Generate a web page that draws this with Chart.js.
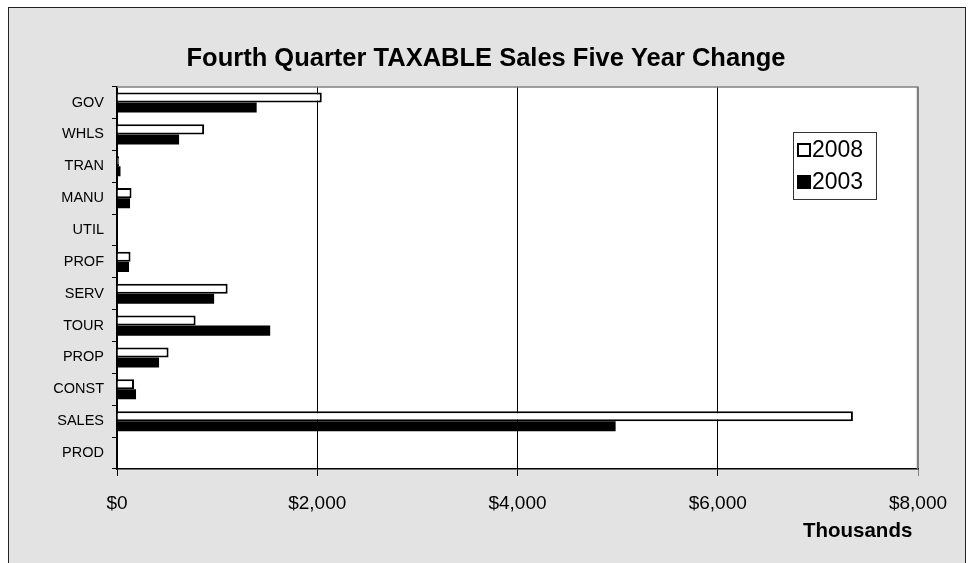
<!DOCTYPE html>
<html>
<head>
<meta charset="utf-8">
<script src="https://cdn.jsdelivr.net/npm/chart.js@4.4.0/dist/chart.umd.min.js"></script>
<style>
    body { margin: 0; background: #fff; }
    #frame {
        position: absolute; left: 8px; top: 7px; width: 956px; height: 600px;
        background: #e3e3e3; border: 1px solid #222;
    }
    #wrap { position: absolute; left: 0; top: 0; width: 972px; height: 563px; }
</style>
</head>
<body>
<div id="frame"></div>
<div id="wrap"><canvas id="chart"></canvas></div>
<script>
const categories = ['GOV', 'WHLS', 'TRAN', 'MANU', 'UTIL', 'PROF', 'SERV', 'TOUR', 'PROP', 'CONST', 'SALES', 'PROD'];
const sales2008 = [2045, 870, 20, 145, 0, 135, 1105, 785, 515, 170, 7350, 0];
const sales2003 = [1395, 620, 35, 130, 0, 120, 970, 1530, 420, 190, 4980, 0];
const xTicks = [0, 2000, 4000, 6000, 8000];

const FONT = "'Liberation Sans', Arial, sans-serif";

function money(v) {
    return '$' + String(v).replace(/\B(?=(\d{3})+(?!\d))/g, ',');
}

// white plot area with grey top/right border
const plotBox = {
    id: 'plotBox',
    beforeDraw(chart) {
        const a = chart.chartArea;
        const ctx = chart.ctx;
        ctx.save();
        ctx.fillStyle = '#fff';
        ctx.fillRect(a.left, a.top, a.right - a.left, a.bottom - a.top);
        ctx.restore();
    },
    afterDraw(chart) {
        const a = chart.chartArea;
        const ctx = chart.ctx;
        ctx.save();
        ctx.strokeStyle = '#808080';
        ctx.lineWidth = 1.5;
        ctx.beginPath();
        ctx.moveTo(a.left, a.top + 0.5);
        ctx.lineTo(a.right - 0.5, a.top + 0.5);
        ctx.lineTo(a.right - 0.5, a.bottom);
        ctx.stroke();
        ctx.restore();
    }
};

// legend box inside the plot
const boxLegend = {
    id: 'boxLegend',
    afterDraw(chart) {
        const ctx = chart.ctx;
        const x = 793, y = 132, w = 83, h = 67;
        ctx.save();
        ctx.fillStyle = '#fff';
        ctx.fillRect(x, y, w, h);
        ctx.strokeStyle = '#333';
        ctx.lineWidth = 1;
        ctx.strokeRect(x + 0.5, y + 0.5, w, h);
        ctx.font = '23px ' + FONT;
        ctx.textBaseline = 'middle';
        chart.data.datasets.forEach((ds, i) => {
            const cy = y + 18 + i * 32;
            ctx.fillStyle = ds.backgroundColor;
            ctx.fillRect(x + 5, cy - 6, 12, 12);
            ctx.strokeStyle = '#000';
            ctx.lineWidth = 2;
            ctx.strokeRect(x + 5, cy - 6, 12, 12);
            ctx.fillStyle = '#000';
            ctx.fillText(ds.label, x + 19, cy + 1);
        });
        ctx.restore();
    }
};

new Chart(document.getElementById('chart'), {
    type: 'bar',
    data: {
        labels: categories,
        datasets: [
            { label: '2008', data: sales2008, backgroundColor: '#ffffff', borderColor: '#000', borderWidth: 2 },
            { label: '2003', data: sales2003, backgroundColor: '#000000', borderColor: '#000', borderWidth: 0 }
        ]
    },
    options: {
        indexAxis: 'y',
        responsive: true,
        maintainAspectRatio: false,
        animation: false,
        layout: { padding: 0 },
        datasets: { bar: { categoryPercentage: 0.63, barPercentage: 1 } },
        plugins: {
            legend: { display: false },
            tooltip: { enabled: false },
            title: {
                display: true,
                text: 'Fourth Quarter TAXABLE Sales Five Year Change',
                color: '#000',
                font: { family: FONT, size: 25.5, weight: 'bold' },
                padding: { top: 44, bottom: 12 }
            }
        },
        scales: {
            x: {
                min: 0, max: 8000,
                afterBuildTicks(scale) { scale.ticks = xTicks.map(v => ({ value: v })); },
                afterFit(scale) { scale.height = 94; },
                border: { display: true, color: '#000', width: 1.5 },
                grid: {
                    color: ctx => ctx.tick && ctx.tick.value === 8000 ? '#808080' : '#000',
                    lineWidth: 1, tickLength: 7, drawOnChartArea: true
                },
                ticks: {
                    color: '#000', padding: 16,
                    font: { family: FONT, size: 19 },
                    callback: v => money(v)
                },
                title: {
                    display: true, text: 'Thousands ', align: 'end', color: '#000',
                    font: { family: FONT, size: 20.5, weight: 'bold' },
                    padding: { top: 19, bottom: 19 }
                }
            },
            y: {
                afterFit(scale) { scale.width = 117; },
                border: { display: true, color: '#000', width: 1.5 },
                grid: { offset: true, drawOnChartArea: false, tickLength: 5, color: '#000' },
                ticks: {
                    color: '#000', padding: 8,
                    font: { family: FONT, size: 14.5 }
                }
            },
            // empty right margin so the title centres on the whole frame
            spacer: {
                type: 'linear', position: 'right', display: true,
                afterFit(scale) { scale.width = 54; },
                border: { display: false },
                grid: { display: false },
                ticks: { display: false }
            }
        }
    },
    plugins: [plotBox, boxLegend]
});
</script>
</body>
</html>
